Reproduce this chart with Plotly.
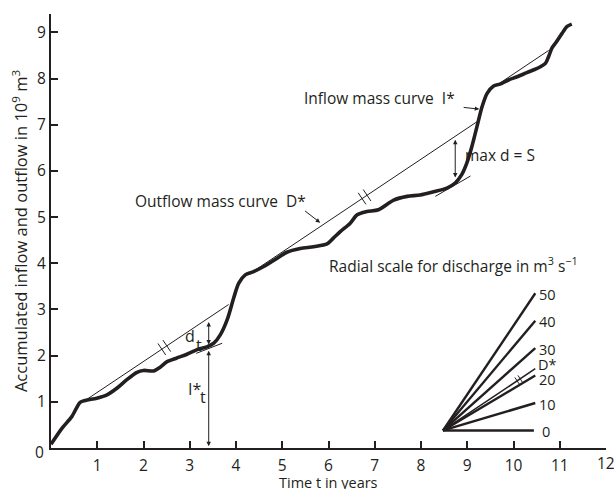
import numpy as np
import plotly.graph_objects as go

# Inflow mass curve I*: accumulated inflow (10^9 m^3) against time (years)
t_inflow = [0.00, 0.24, 0.45, 0.63, 0.74, 0.99, 1.21, 1.43, 1.64, 1.86, 2.00, 2.22,
            2.36, 2.51, 2.72, 2.94, 3.16, 3.37, 3.52, 3.66, 3.81, 3.95, 4.06, 4.20,
            4.38, 4.60, 4.89, 5.10, 5.39, 5.68, 5.97, 6.11, 6.26, 6.47, 6.62, 6.83,
            7.08, 7.41, 7.70, 7.98, 8.27, 8.56, 8.74, 8.88, 8.99, 9.10, 9.21, 9.32,
            9.43, 9.57, 9.71, 9.89, 10.08, 10.29, 10.51, 10.69, 10.76, 10.83, 10.91,
            11.05, 11.16, 11.26]
v_inflow = [0.08, 0.43, 0.68, 0.99, 1.03, 1.08, 1.15, 1.30, 1.48, 1.64, 1.68, 1.67,
            1.75, 1.87, 1.95, 2.03, 2.13, 2.19, 2.27, 2.45, 2.78, 3.25, 3.57, 3.75,
            3.82, 3.93, 4.11, 4.24, 4.32, 4.36, 4.42, 4.55, 4.69, 4.87, 5.05, 5.12,
            5.16, 5.37, 5.45, 5.48, 5.55, 5.63, 5.74, 5.92, 6.17, 6.53, 6.96, 7.39,
            7.68, 7.84, 7.88, 7.97, 8.04, 8.13, 8.22, 8.33, 8.48, 8.66, 8.77,
            8.98, 9.13, 9.18]

# Outflow mass curve D*: slope = constant draft (10^9 m^3 per year)
draft_slope = 0.67
outflow_t_start = [0.74, 4.38, 9.64]
outflow_v_start = [1.03, 3.83, 7.86]
outflow_t_end = [3.84, 9.25, 10.76]

# short tangents at the low points of the inflow curve
low_t_start = [3.14, 8.31]
low_v_start = [2.05, 5.45]
low_t_end = [3.70, 9.07]
low_slope = [0.39, 0.58]

# radial scale for discharge (m^3/s)
radial_q = [0, 10, 20, 30, 40, 50]
radial_labels = ["0", "10", "20", "30", "40", "50"]
q_per_slope = 0.0298  # 1 m^3/s as slope in 10^9 m^3 per year on this scale

# times where the deficit d_t and max d = S are shown
t_deficit = 3.41
t_storage = 8.74

INK = "#231f20"
FONT = "Open Sans"
FS = 15.5

fig = go.Figure()

def add_line(xs, ys, width, color=INK):
    fig.add_trace(go.Scatter(x=xs, y=ys, mode="lines",
                             line=dict(color=color, width=width),
                             hoverinfo="skip", showlegend=False))

def break_marks(x0, y0, slope, gap=0.13, half=0.15):
    # two short strokes across a line of given slope, centred at (x0, y0)
    d = np.array([1.0, slope]) / np.hypot(1.0, slope)
    n = np.array([-d[1], d[0]])
    xs, ys = [], []
    for s in (-gap / 2, gap / 2):
        c = np.array([x0, y0]) + s * d
        p, q = c - half * n, c + half * n
        xs += [p[0], q[0], None]
        ys += [p[1], q[1], None]
    add_line(xs, ys, 1)

def label(x, y, text, xanchor="left", size=FS, **kw):
    fig.add_annotation(x=x, y=y, text=text, showarrow=False, xanchor=xanchor,
                       yanchor="middle", font=dict(size=size, color=INK, family=FONT), **kw)

# outflow tangents (thin)
for ts, vs, te in zip(outflow_t_start, outflow_v_start, outflow_t_end):
    add_line([ts, te], [vs, vs + draft_slope * (te - ts)], 1)

for ts, vs, te, m in zip(low_t_start, low_v_start, low_t_end, low_slope):
    add_line([ts, te], [vs, vs + m * (te - ts)], 1)

# break marks on the outflow lines
for k, tb in [(0, 2.45), (1, 6.78)]:
    vb = outflow_v_start[k] + draft_slope * (tb - outflow_t_start[k])
    break_marks(tb, vb, draft_slope)

# inflow mass curve (thick)
fig.add_trace(go.Scatter(x=t_inflow, y=v_inflow, mode="lines",
                         line=dict(color=INK, width=3.6, shape="spline", smoothing=0.8),
                         hoverinfo="skip", showlegend=False))

# radial discharge scale
ox, oy, reach = 8.476, 0.38, 1.995
nudge = {20: -0.07}
for q, lab in zip(radial_q, radial_labels):
    ye = oy + q * q_per_slope * reach
    xe = ox + reach * (0.985 if q == 0 else 1.0)
    add_line([ox, xe], [oy, ye], 2.4)
    label(xe, ye + nudge.get(q, 0), lab, size=14.5, xshift=2 if q else 6, yshift=-1)
ye = oy + draft_slope * reach
add_line([ox, ox + reach], [oy, ye], 1.5)
label(ox + reach, ye + 0.12, "D*", size=14.5, xshift=1, yshift=-1)
xb = ox + 0.82 * reach
break_marks(xb, oy + draft_slope * (xb - ox), draft_slope, gap=0.08, half=0.09)

label(5.97, 3.97, "Radial scale for discharge in m<sup>3</sup> s<sup>\u22121</sup>")

# deficit d_t and inflow I*_t at t_deficit
v_in_t = float(np.interp(t_deficit, t_inflow, v_inflow))
v_out_t = outflow_v_start[0] + draft_slope * (t_deficit - outflow_t_start[0])
arrow_kw = dict(xref="x", yref="y", axref="x", ayref="y", text="", showarrow=True,
                arrowhead=2, startarrowhead=2, arrowsize=0.9, startarrowsize=0.9,
                arrowwidth=1, arrowcolor=INK, arrowside="end+start")
fig.add_annotation(x=t_deficit, y=v_in_t + 0.03, ax=t_deficit, ay=v_out_t - 0.06, **arrow_kw)
fig.add_annotation(x=t_deficit, y=0.04, ax=t_deficit, ay=v_in_t - 0.07, **arrow_kw)
# symbols with their subscript t drawn at full size, set lower
label(3.01, 2.42, "d", xanchor="center", size=16)
label(3.21, 2.24, "t", xanchor="center", size=16)
label(3.10, 1.27, "I*", xanchor="center", size=16)
label(3.28, 1.11, "t", xanchor="center", size=16)

# maximum deficit = storage S
v_in_s = float(np.interp(t_storage, t_inflow, v_inflow))
v_out_s = outflow_v_start[1] + draft_slope * (t_storage - outflow_t_start[1])
fig.add_annotation(x=t_storage, y=v_in_s + 0.12, ax=t_storage, ay=v_out_s - 0.04, **arrow_kw)
label(8.9, 6.35, "max d = S")

# curve labels with pointer arrows
label(8.785, 7.58, "Inflow mass curve\u00a0\u00a0I*", xanchor="right")
fig.add_annotation(x=9.26, y=7.34, ax=8.89, ay=7.38, xref="x", yref="y", axref="x", ayref="y",
                   text="", showarrow=True, arrowhead=2, arrowsize=0.9, arrowwidth=1, arrowcolor=INK)
label(1.78, 5.34, "Outflow mass curve\u00a0\u00a0D*")
fig.add_annotation(x=5.82, y=4.88, ax=5.46, ay=5.16, xref="x", yref="y", axref="x", ayref="y",
                   text="", showarrow=True, arrowhead=2, arrowsize=0.9, arrowwidth=1, arrowcolor=INK)

# shared origin label and the last x label, which sits at the axis end without a tick
fig.add_annotation(x=0, y=0, text="0", showarrow=False, xanchor="right", yanchor="middle",
                   xshift=-5, yshift=-4, font=dict(size=FS, color=INK, family=FONT))
fig.add_annotation(x=12, y=0, text="12", showarrow=False, yanchor="middle", yshift=-15,
                   font=dict(size=FS, color=INK, family=FONT))

# x-axis title below the tick labels
fig.add_annotation(x=0.5, y=0, xref="paper", yref="paper", text="Time t in years",
                   showarrow=False, xanchor="center", yanchor="middle", yshift=-34,
                   font=dict(size=14.5, color=INK, family=FONT))

axis_common = dict(showline=True, linecolor=INK, linewidth=2, ticks="inside", ticklen=7,
                   tickwidth=2, tickcolor=INK, showgrid=False, zeroline=False,
                   automargin=False, tickfont=dict(size=FS, color=INK, family=FONT))
fig.update_layout(
    width=614, height=489,
    margin=dict(l=51, r=8, t=14, b=41),
    paper_bgcolor="white", plot_bgcolor="white",
    xaxis=dict(range=[0, 12], tickvals=list(range(1, 12)), ticklabelstandoff=2,
               **axis_common),
    yaxis=dict(range=[0, 9.4], tickvals=list(range(1, 10)),
               title=dict(text="Accumulated inflow and outflow in 10<sup>9</sup> m<sup>3</sup>",
                          standoff=5, font=dict(size=16.5, color=INK, family=FONT)),
               **axis_common),
)

fig.write_html("out.html")
